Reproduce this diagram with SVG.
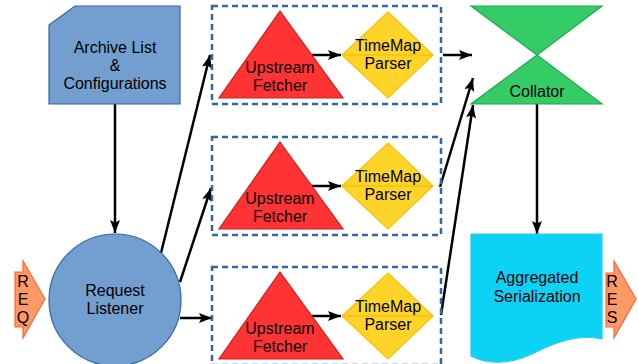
<svg xmlns="http://www.w3.org/2000/svg" width="638" height="364" viewBox="0 0 638 364">
  <defs>
    <marker id="arrow" viewBox="0 0 13 10" refX="13" refY="5" markerWidth="13" markerHeight="10" markerUnits="userSpaceOnUse" orient="auto">
      <path d="M0,0 L13,5 L0,10 L2.5,5 z" fill="#000"/>
    </marker>
    <style>
      text { font-family: "Liberation Sans", Arial, sans-serif; font-size: 16px; fill: #000; text-anchor: middle; }
      .blue { fill: #729fcf; stroke: #3465a4; stroke-width: 1.2; }
      .group { fill: none; stroke: #3465a4; stroke-width: 2.5; stroke-dasharray: 6 4; }
      .fetcher { fill: #ff3333; stroke: #c9211e; stroke-width: 1.2; }
      .parser { fill: #ffd428; stroke: #ffbf00; stroke-width: 1.2; }
      .midline { stroke: #f5b400; stroke-width: 1; }
      .collator { fill: #33cc66; stroke: #22a84f; stroke-width: 1.2; }
      .doc { fill: #0cd3f6; stroke: #2ec8f0; stroke-width: 1.2; }
      .io { fill: #ff9966; stroke: #ff6633; stroke-width: 1.2; }
      .edge { fill: none; stroke: #000; stroke-width: 2.5; marker-end: url(#arrow); }
    </style>
  </defs>
  <rect width="638" height="364" fill="#fff"/>

  <!-- connectors -->
  <g id="connectors">
    <line class="edge" x1="115" y1="104" x2="115" y2="233"/>
    <line class="edge" x1="161" y1="253" x2="210" y2="55"/>
    <line class="edge" x1="180" y1="282" x2="211" y2="188"/>
    <line class="edge" x1="180" y1="318" x2="212" y2="318"/>
    <line class="edge" x1="312" y1="55" x2="341" y2="55"/>
    <line class="edge" x1="312" y1="186" x2="341" y2="186"/>
    <line class="edge" x1="312" y1="316" x2="341" y2="316"/>
    <line class="edge" x1="443" y1="55" x2="472" y2="55"/>
    <line class="edge" x1="440" y1="187" x2="473" y2="78"/>
    <line class="edge" x1="441" y1="315" x2="473" y2="105"/>
    <line class="edge" x1="537" y1="104" x2="537" y2="234"/>
  </g>

  <!-- inputs -->
  <g id="archive-list">
    <path class="blue" d="M49,25 L75,6 H180 V104 H49 Z"/>
    <text x="115" y="53">Archive List</text>
    <text x="115" y="71">&amp;</text>
    <text x="115" y="89">Configurations</text>
  </g>

  <g id="req">
    <path class="io" d="M15,272 H23 V261 L45,299 L23,338 V327 H15 Z"/>
    <text x="23" y="287">R</text>
    <text x="23" y="305">E</text>
    <text x="23" y="323">Q</text>
  </g>

  <g id="request-listener">
    <circle class="blue" cx="115" cy="300" r="66"/>
    <text x="115" y="296">Request</text>
    <text x="115" y="314">Listener</text>
  </g>

  <!-- fetch/parse pipelines -->
  <g id="pipeline-1">
    <rect class="group" x="212" y="6" width="229" height="98"/>
    <g id="fetcher-1">
      <polygon class="fetcher" points="280,11 343,98 219,98"/>
      <text x="280" y="73">Upstream</text>
      <text x="280" y="91">Fetcher</text>
    </g>
    <g id="parser-1">
      <polygon class="parser" points="388,12 433,55 388,98 342,55"/>
      <line class="midline" x1="343" y1="55" x2="432" y2="55"/>
      <text x="388" y="51">TimeMap</text>
      <text x="388" y="69">Parser</text>
    </g>
  </g>

  <g id="pipeline-2">
    <rect class="group" x="212" y="137" width="229" height="98"/>
    <g id="fetcher-2">
      <polygon class="fetcher" points="280,142 343,229 219,229"/>
      <text x="280" y="204">Upstream</text>
      <text x="280" y="222">Fetcher</text>
    </g>
    <g id="parser-2">
      <polygon class="parser" points="388,143 433,186 388,229 342,186"/>
      <line class="midline" x1="343" y1="186" x2="432" y2="186"/>
      <text x="388" y="182">TimeMap</text>
      <text x="388" y="200">Parser</text>
    </g>
  </g>

  <g id="pipeline-3">
    <rect class="group" x="212" y="267" width="229" height="98"/>
    <g id="fetcher-3">
      <polygon class="fetcher" points="280,272 343,359 219,359"/>
      <text x="280" y="334">Upstream</text>
      <text x="280" y="352">Fetcher</text>
    </g>
    <g id="parser-3">
      <polygon class="parser" points="388,273 433,316 388,359 342,316"/>
      <line class="midline" x1="343" y1="316" x2="432" y2="316"/>
      <text x="388" y="312">TimeMap</text>
      <text x="388" y="330">Parser</text>
    </g>
  </g>

  <!-- outputs -->
  <g id="collator">
    <polygon class="collator" points="471,6 602,6 537,55 602,104 471,104 537,55"/>
    <text x="537" y="97">Collator</text>
  </g>

  <g id="aggregated-serialization">
    <path class="doc" d="M471,234 H602 V339 C578,334 556,342 534,353 C514,363 490,366 471,356 Z"/>
    <text x="537" y="283">Aggregated</text>
    <text x="537" y="302">Serialization</text>
  </g>

  <g id="res">
    <path class="io" d="M606,273 H614 V261 L636,299 L614,338 V327 H606 Z"/>
    <text x="612" y="287">R</text>
    <text x="612" y="305">E</text>
    <text x="612" y="323">S</text>
  </g>
</svg>
